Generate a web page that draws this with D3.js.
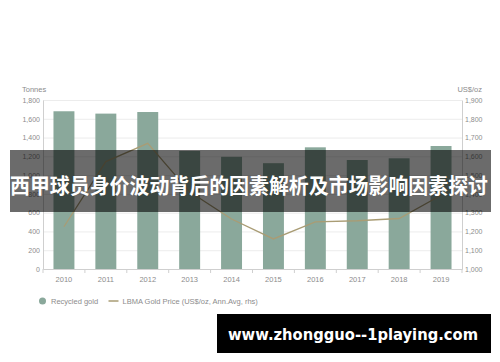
<!DOCTYPE html>
<html>
<head>
<meta charset="utf-8">
<script src="https://cdn.jsdelivr.net/npm/d3@7"></script>
<style>
  html, body { margin: 0; padding: 0; background: #fff; }
  svg { display: block; }
</style>
</head>
<body>
<script>
// Donnees
var years = ['2010', '2011', '2012', '2013', '2014', '2015', '2016', '2017', '2018', '2019']
var recycledGold = [1680, 1655, 1672, 1257, 1195, 1127, 1296, 1161, 1179, 1310]
var goldPrice = [1225, 1572, 1669, 1411, 1266, 1160, 1251, 1257, 1269, 1393]
var leftTicks = [0, 200, 400, 600, 800, 1000, 1200, 1400, 1600, 1800]
var rightTicks = [1000, 1100, 1200, 1300, 1400, 1500, 1600, 1700, 1800, 1900]
var legendLabels = ['Recycled gold', 'LBMA Gold Price (US$/oz, Ann.Avg, rhs)']
var bannerText = '西甲球员身价波动背后的因素解析及市场影响因素探讨'
var watermarkText = 'www.zhongguo--1playing.com'

// Couleurs et dimensions
var colours = {
    bar: '#8aa89b',
    line: '#a99c74',
    grid: '#ececec',
    axis: '#cfcfcf',
    text: '#8c8c8c'
}

var width = 500
var height = 362
var plot = { left: 43, right: 462, top: 100, bottom: 269 }
var font = '"Liberation Sans", Arial, sans-serif'

var svg = d3.select('body').append('svg')
    .attr('width', width)
    .attr('height', height)
    .attr('font-family', font)

// Echelles
var x = d3.scaleBand()
    .domain(years)
    .range([plot.left, plot.right])
    .paddingInner(0.5)
    .paddingOuter(0.25)

var yLeft = d3.scaleLinear()
    .domain([0, 1800])
    .range([plot.bottom, plot.top])

var yRight = d3.scaleLinear()
    .domain([1000, 1900])
    .range([plot.bottom, plot.top])

// Grille
svg.append('g')
    .attr('transform', `translate(${plot.left},0)`)
    .call(d3.axisLeft(yLeft).tickValues(leftTicks).tickSize(-(plot.right - plot.left)).tickFormat(''))
    .call(g => g.select('.domain').remove())
    .call(g => g.selectAll('line').attr('stroke', colours.grid))

// Barres
svg.append('g')
    .selectAll('rect')
    .data(years)
    .join('rect')
    .attr('x', d => x(d))
    .attr('y', (d, i) => yLeft(recycledGold[i]))
    .attr('width', x.bandwidth())
    .attr('height', (d, i) => yLeft(0) - yLeft(recycledGold[i]))
    .attr('fill', colours.bar)

// Ligne du prix de l'or
svg.append('path')
    .attr('d', d3.line()(years.map((d, i) => [x(d) + x.bandwidth() / 2, yRight(goldPrice[i])])))
    .attr('fill', 'none')
    .attr('stroke', colours.line)
    .attr('stroke-width', 1.3)

// Axes
function styleAxis(g) {
    g.select('.domain').attr('stroke', colours.axis)
    g.selectAll('.tick line').attr('stroke', colours.axis)
    g.selectAll('.tick text')
        .attr('fill', colours.text)
        .attr('font-size', '7px')
        .attr('font-family', font)
}

svg.append('g')
    .attr('transform', `translate(${plot.left},0)`)
    .call(d3.axisLeft(yLeft).tickValues(leftTicks).tickSize(0).tickPadding(3).tickFormat(d3.format(',')))
    .call(styleAxis)

svg.append('g')
    .attr('transform', `translate(${plot.right},0)`)
    .call(d3.axisRight(yRight).tickValues(rightTicks).tickSize(0).tickPadding(3).tickFormat(d3.format(',')))
    .call(styleAxis)

svg.append('g')
    .attr('transform', `translate(0,${plot.bottom})`)
    .call(d3.axisBottom(x).tickSize(0).tickPadding(8).tickSizeOuter(0))
    .call(styleAxis)
    .call(g => g.selectAll('.tick text').attr('font-size', '7.5px'))

// Petits traits entre les annees
svg.append('g')
    .selectAll('line')
    .data(d3.range(years.length + 1))
    .join('line')
    .attr('x1', d => plot.left + d * x.step())
    .attr('x2', d => plot.left + d * x.step())
    .attr('y1', plot.bottom)
    .attr('y2', plot.bottom + 4)
    .attr('stroke', colours.axis)

// Titres des axes
svg.append('text')
    .attr('x', 22)
    .attr('y', 92)
    .attr('font-size', '7.5px')
    .attr('fill', colours.text)
    .text('Tonnes')

svg.append('text')
    .attr('x', 482)
    .attr('y', 92)
    .attr('text-anchor', 'end')
    .attr('font-size', '7.5px')
    .attr('fill', colours.text)
    .text('US$/oz')

// Legende
var legend = svg.append('g')
    .attr('font-size', '7.5px')
    .attr('fill', colours.text)

legend.append('circle')
    .attr('cx', 42.5)
    .attr('cy', 301)
    .attr('r', 3.5)
    .attr('fill', colours.bar)

legend.append('text')
    .attr('x', 51)
    .attr('y', 303.5)
    .text(legendLabels[0])

legend.append('line')
    .attr('x1', 108.5)
    .attr('x2', 118.5)
    .attr('y1', 301)
    .attr('y2', 301)
    .attr('stroke', colours.line)
    .attr('stroke-width', 1.5)

legend.append('text')
    .attr('x', 122.5)
    .attr('y', 303.5)
    .text(legendLabels[1])

// Bandeau
svg.append('rect')
    .attr('x', 10)
    .attr('y', 150)
    .attr('width', 481)
    .attr('height', 62)
    .attr('fill', 'rgba(0,0,0,0.58)')

svg.append('text')
    .attr('x', 10)
    .attr('y', 193)
    .attr('font-family', '"Noto Sans CJK SC", sans-serif')
    .attr('font-weight', 'bold')
    .attr('font-size', '21px')
    .attr('fill', '#fff')
    .attr('textLength', 478)
    .attr('lengthAdjust', 'spacingAndGlyphs')
    .text(bannerText)

// Filigrane
svg.append('rect')
    .attr('x', 217)
    .attr('y', 314)
    .attr('width', 274)
    .attr('height', 39)
    .attr('fill', '#000')

svg.append('text')
    .attr('x', 228)
    .attr('y', 340)
    .attr('font-family', '"DejaVu Sans", sans-serif')
    .attr('font-weight', 'bold')
    .attr('font-size', '16px')
    .attr('fill', '#fff')
    .attr('textLength', 250)
    .attr('lengthAdjust', 'spacingAndGlyphs')
    .text(watermarkText)
</script>
</body>
</html>
